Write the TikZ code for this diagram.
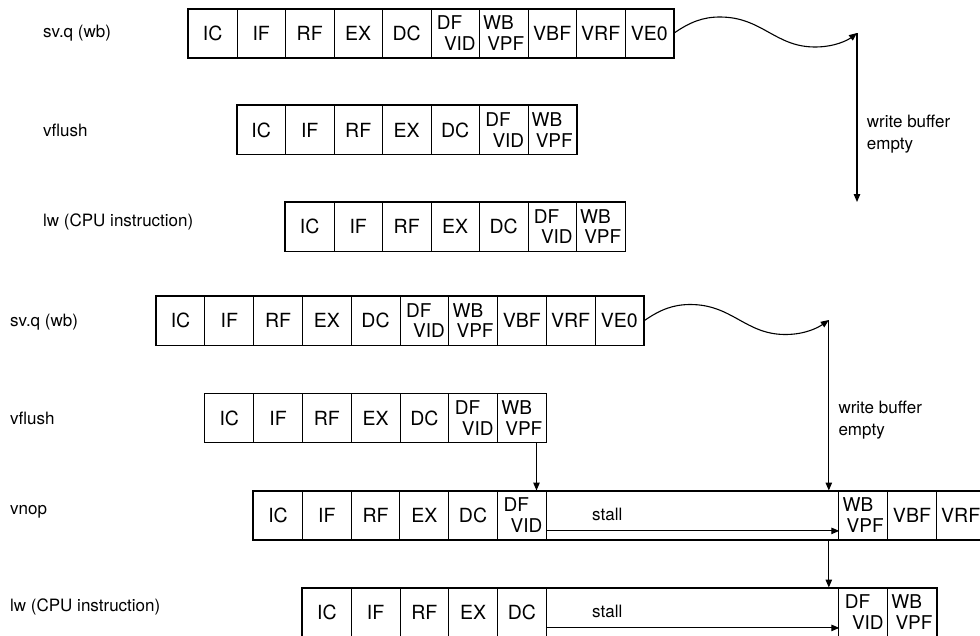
\documentclass[tikz,border=0pt]{standalone}
\usepackage{fontspec}
\setmainfont{TeX Gyre Heros}
\usetikzlibrary{arrows.meta}
\newcommand\twoln[3][0pt]{\vbox{\fontsize{19}{20.5}\selectfont\hsize=41pt\baselineskip=20.5pt
  \hbox to 41pt{\hspace*{#1}#2\hfill}\hbox to 41pt{\hfill #3}}}
\tikzset{
  cell/.style={draw, line width=0.9pt, inner sep=0pt, minimum height=48.5pt, anchor=north west, font=\fontsize{19.5}{22}\selectfont},
  outer/.style={draw, line width=1.5pt},
  lab/.style={anchor=west, inner sep=0pt, font=\fontsize{17}{20}\selectfont},
  note/.style={anchor=north west, inner sep=0pt, align=left, font=\fontsize{17}{22}\selectfont},
  stalltxt/.style={anchor=base west, inner sep=0pt, font=\fontsize{17}{20}\selectfont},
  arr/.style={line width=1.1pt, -{Triangle[length=8pt,width=6.5pt]}},
}
\begin{document}
\begin{tikzpicture}[x=1pt,y=-1pt]
\useasboundingbox (0,0) rectangle (980,635);
\clip (0,0) rectangle (980,635);
% labels
\node[lab] (l1) at (43,33) {sv.q (wb)};
\node[lab] (l2) at (43,130) {vflush};
\node[lab] (l3) at (43,222) {lw (CPU instruction)};
\node[lab] (l4) at (10,322) {sv.q (wb)};
\node[lab] (l5) at (10,418) {vflush};
\node[lab] (l6) at (10,512) {vnop};
\node[lab] (l7) at (10,607) {lw (CPU instruction)};
% row 1
\foreach \lbl [count=\i from 0] in {IC,IF,RF,EX,DC,{\twoln[2.25pt]{DF}{VID}},{\twoln{WB}{VPF}},VBF,VRF,VE0}
  \node[cell,minimum width=48.5pt] (a\i) at ({188+48.5*\i},8.5) {\lbl};
\draw[outer] (a0.north west) rectangle (a9.south east);
% row 2
\foreach \lbl [count=\i from 0] in {IC,IF,RF,EX,DC,{\twoln[2.25pt]{DF}{VID}},{\twoln{WB}{VPF}}}
  \node[cell,minimum width=48.5pt] (b\i) at ({236.5+48.5*\i},105.2) {\lbl};
\draw[outer] (b0.north west) rectangle (b6.south east);
% row 3
\foreach \lbl [count=\i from 0] in {IC,IF,RF,EX,DC,{\twoln[2.25pt]{DF}{VID}},{\twoln{WB}{VPF}}}
  \node[cell,minimum width=48.5pt] (c\i) at ({285+48.5*\i},202) {\lbl};
\draw[outer] (c0.north west) rectangle (c6.south east);
% row 4
\foreach \lbl [count=\i from 0] in {IC,IF,RF,EX,DC,{\twoln[2.25pt]{DF}{VID}},{\twoln{WB}{VPF}},VBF,VRF,VE0}
  \node[cell,minimum width=48.76pt] (d\i) at ({155.7+48.76*\i},296) {\lbl};
\draw[outer] (d0.north west) rectangle (d9.south east);
% row 5
\foreach \lbl [count=\i from 0] in {IC,IF,RF,EX,DC,{\twoln[2.25pt]{DF}{VID}},{\twoln{WB}{VPF}}}
  \node[cell,minimum width=48.76pt] (e\i) at ({204.46+48.76*\i},393.3) {\lbl};
\draw[outer] (e0.north west) rectangle (e6.south east);
% row 6 (vnop)
\foreach \lbl [count=\i from 0] in {IC,IF,RF,EX,DC,{\twoln[2.25pt]{DF}{VID}}}
  \node[cell,minimum width=48.76pt] (f\i) at ({253.2+48.76*\i},490.5) {\lbl};
\node[cell,minimum width=292.6pt] (s6) at (545.76,490.5) {};
\node[cell,minimum width=48.76pt] (f6) at (838.36,490.5) {\twoln{WB}{VPF}};
\node[cell,minimum width=48.76pt] (f7) at (887.12,490.5) {VBF};
\node[cell,minimum width=48.76pt] (f8) at (935.88,490.5) {VRF};
\draw[outer] (f0.north west) rectangle (f8.south east);
% row 7 (lw)
\foreach \lbl [count=\i from 0] in {IC,IF,RF,EX,DC}
  \node[cell,minimum width=48.76pt] (g\i) at ({302+48.76*\i},587.5) {\lbl};
\node[cell,minimum width=292.6pt] (s7) at (545.8,587.5) {};
\node[cell,minimum width=48.76pt] (g5) at (838.36,587.5) {\twoln[2.25pt]{DF}{VID}};
\node[cell,minimum width=48.76pt] (g6) at (887.12,587.5) {\twoln{WB}{VPF}};
\draw[outer] (g0.north west) rectangle (g6.south east);
% stall
\node[stalltxt] (t6) at (592,520) {stall};
\node[stalltxt] (t7) at (592,617) {stall};
\draw[arr] ([yshift=9pt]s6.south west) -- ([yshift=9pt]s6.south east);
\draw[arr] ([yshift=9pt]s7.south west) -- ([yshift=9pt]s7.south east);
% top wave + arrow
\coordinate (w1) at (857,33);
\coordinate (w1b) at (857,202);
\draw[arr] (a9.east) .. controls (690,22) and (703,17) .. (720,17)
  .. controls (762,17) and (775,47) .. (815,47)
  .. controls (835,47) and (848,40) .. (w1);
\draw[arr] (w1) -- (w1b);
\node[note] (n1) at (866.7,115.3) {write buffer\\empty};
% bottom wave + arrows
\coordinate (w2) at (828.8,320);
\draw[arr] (d9.east) .. controls (660.3,309.5) and (673.3,304.5) .. (690.3,304.5)
  .. controls (732.3,304.5) and (745.3,334.5) .. (785.3,334.5)
  .. controls (805.3,334.5) and (818.3,327.5) .. (w2);
\draw[arr] (w2) -- (w2 |- s6.north);
\draw[arr] (w2 |- s6.south) -- (w2 |- s7.north);
\node[note] (n2) at (838.3,401.2) {write buffer\\empty};
% vflush -> vnop
\coordinate (v5) at (536.5,440);
\draw[arr] (v5 |- e6.south) -- (v5 |- f5.north);
\end{tikzpicture}
\end{document}
